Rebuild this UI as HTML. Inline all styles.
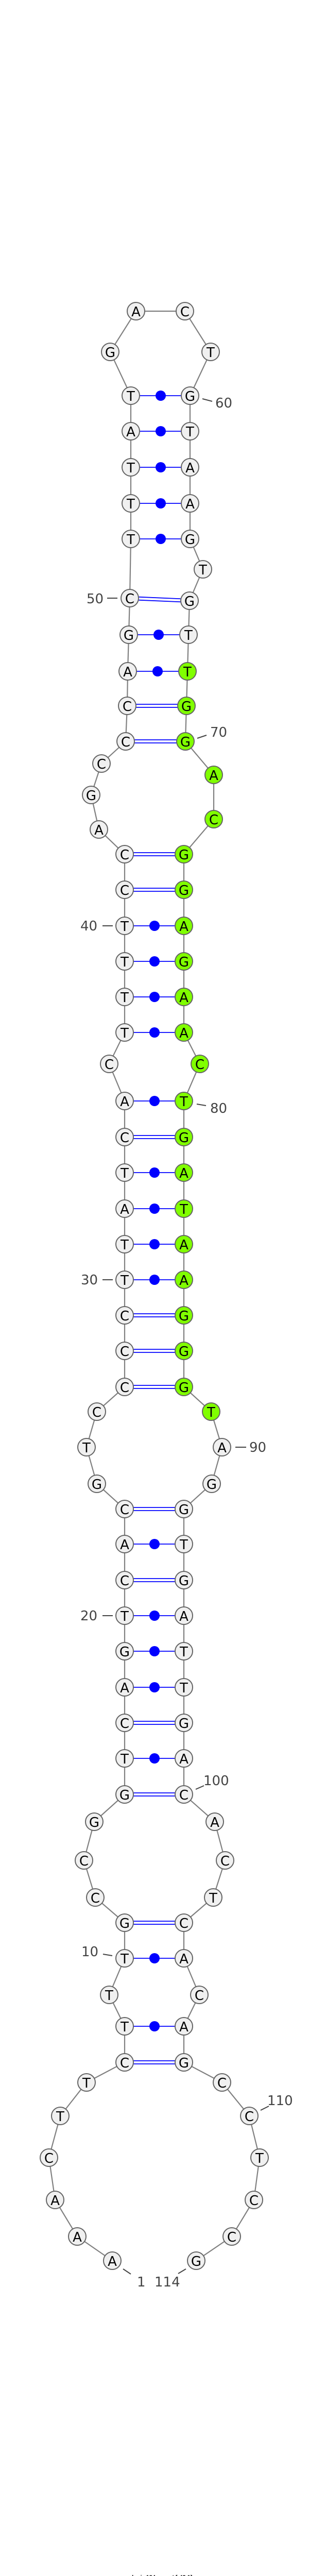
<!DOCTYPE html>
<html><head><meta charset="utf-8"><style>
html,body{margin:0;padding:0;background:#fff;width:600px;height:5012px;overflow:hidden}
svg{display:block}
.n{fill:#f0f0f0;stroke:#646464;stroke-width:2}
.g{fill:#80ff00;stroke:#646464;stroke-width:2}
.t{font-family:"DejaVu Sans","Liberation Sans",sans-serif;font-size:26px;text-anchor:middle;fill:#000}
.l{font-family:"DejaVu Sans","Liberation Sans",sans-serif;font-size:26px;fill:#444}
.p{stroke:#0000ff;stroke-width:1.8}
.d{fill:#0000ff}
.lt{stroke:#444;stroke-width:2}
</style></head><body>
<svg width="600" height="5012" viewBox="0 0 600 5012" xmlns="http://www.w3.org/2000/svg">
<polyline fill="none" stroke="#808080" stroke-width="2.2" points="218,4388 150,4341 107,4270 95,4188 117,4107 168,4042 242,4003 242,3933 212,3872 242,3801 242,3732 185,3683 163,3611 183,3536 242,3483 242,3413 242,3344 242,3275 242,3205 242,3136 242,3067 242,2997 242,2929 188,2880 168,2809 188,2740 242,2692 242,2622 242,2553 242,2484 242,2415 242,2346 242,2276 242,2207 242,2137 212,2065 242,2004 242,1935 242,1866 242,1797 242,1727 242,1658 192,1610 177,1543 197,1482 244,1439 247,1370 248,1303 250,1232 252,1161 254,1046 254,977 254,907 254,837 254,768 214,683 264,604 359,604 409,683 369,768 369,837 369,907 369,977 369,1046 394,1105 368,1166 366,1232 364,1303 362,1370 360,1439 415,1504 415,1590 357,1658 357,1727 357,1797 357,1866 357,1935 357,2004 388,2065 357,2137 357,2207 357,2276 357,2346 357,2415 357,2484 357,2553 357,2622 357,2692 410,2740 431,2809 411,2880 357,2929 357,2997 357,3067 357,3136 357,3205 357,3275 357,3344 357,3413 357,3483 417,3536 437,3611 414,3683 357,3732 357,3801 387,3872 357,3933 357,4003 431,4042 484,4107 504,4188 493,4270 450,4341 381,4388"/>
<g class="p">
<line x1="242" y1="4000" x2="357" y2="4000"/><line x1="242" y1="4006" x2="357" y2="4006"/>
<line x1="242" y1="3729" x2="357" y2="3729"/><line x1="242" y1="3735" x2="357" y2="3735"/>
<line x1="242" y1="3480" x2="357" y2="3480"/><line x1="242" y1="3486" x2="357" y2="3486"/>
<line x1="242" y1="3341" x2="357" y2="3341"/><line x1="242" y1="3347" x2="357" y2="3347"/>
<line x1="242" y1="3064" x2="357" y2="3064"/><line x1="242" y1="3070" x2="357" y2="3070"/>
<line x1="242" y1="2926" x2="357" y2="2926"/><line x1="242" y1="2932" x2="357" y2="2932"/>
<line x1="242" y1="2689" x2="357" y2="2689"/><line x1="242" y1="2695" x2="357" y2="2695"/>
<line x1="242" y1="2619" x2="357" y2="2619"/><line x1="242" y1="2625" x2="357" y2="2625"/>
<line x1="242" y1="2550" x2="357" y2="2550"/><line x1="242" y1="2556" x2="357" y2="2556"/>
<line x1="242" y1="2204" x2="357" y2="2204"/><line x1="242" y1="2210" x2="357" y2="2210"/>
<line x1="242" y1="1724" x2="357" y2="1724"/><line x1="242" y1="1730" x2="357" y2="1730"/>
<line x1="242" y1="1655" x2="357" y2="1655"/><line x1="242" y1="1661" x2="357" y2="1661"/>
<line x1="244" y1="1436" x2="360" y2="1436"/><line x1="244" y1="1442" x2="360" y2="1442"/>
<line x1="247" y1="1367" x2="362" y2="1367"/><line x1="247" y1="1373" x2="362" y2="1373"/>
<line x1="252" y1="1158" x2="368" y2="1163"/><line x1="252" y1="1164" x2="368" y2="1169"/>
<line x1="242" y1="3933" x2="357" y2="3933"/>
<line x1="242" y1="3801" x2="357" y2="3801"/>
<line x1="242" y1="3413" x2="357" y2="3413"/>
<line x1="242" y1="3275" x2="357" y2="3275"/>
<line x1="242" y1="3205" x2="357" y2="3205"/>
<line x1="242" y1="3136" x2="357" y2="3136"/>
<line x1="242" y1="2997" x2="357" y2="2997"/>
<line x1="242" y1="2484" x2="357" y2="2484"/>
<line x1="242" y1="2415" x2="357" y2="2415"/>
<line x1="242" y1="2346" x2="357" y2="2346"/>
<line x1="242" y1="2276" x2="357" y2="2276"/>
<line x1="242" y1="2137" x2="357" y2="2137"/>
<line x1="242" y1="2004" x2="357" y2="2004"/>
<line x1="242" y1="1935" x2="357" y2="1935"/>
<line x1="242" y1="1866" x2="357" y2="1866"/>
<line x1="242" y1="1797" x2="357" y2="1797"/>
<line x1="248" y1="1303" x2="364" y2="1303"/>
<line x1="250" y1="1232" x2="366" y2="1232"/>
<line x1="254" y1="1046" x2="369" y2="1046"/>
<line x1="254" y1="977" x2="369" y2="977"/>
<line x1="254" y1="907" x2="369" y2="907"/>
<line x1="254" y1="837" x2="369" y2="837"/>
<line x1="254" y1="768" x2="369" y2="768"/>
</g>
<g class="d">
<circle cx="300" cy="3933" r="10"/><circle cx="300" cy="3801" r="10"/><circle cx="300" cy="3413" r="10"/>
<circle cx="300" cy="3275" r="10"/><circle cx="300" cy="3205" r="10"/><circle cx="300" cy="3136" r="10"/>
<circle cx="300" cy="2997" r="10"/><circle cx="300" cy="2484" r="10"/><circle cx="300" cy="2415" r="10"/>
<circle cx="300" cy="2346" r="10"/><circle cx="300" cy="2276" r="10"/><circle cx="300" cy="2137" r="10"/>
<circle cx="300" cy="2004" r="10"/><circle cx="300" cy="1935" r="10"/><circle cx="300" cy="1866" r="10"/>
<circle cx="300" cy="1797" r="10"/><circle cx="306" cy="1303" r="10"/><circle cx="308" cy="1232" r="10"/>
<circle cx="312" cy="1046" r="10"/><circle cx="312" cy="977" r="10"/><circle cx="312" cy="907" r="10"/>
<circle cx="312" cy="837" r="10"/><circle cx="312" cy="768" r="10"/>
</g>
<g>
<circle class="n" cx="218" cy="4388" r="17"/><text class="t" x="218" y="4398">A</text>
<circle class="n" cx="150" cy="4341" r="17"/><text class="t" x="150" y="4351">A</text>
<circle class="n" cx="107" cy="4270" r="17"/><text class="t" x="107" y="4280">A</text>
<circle class="n" cx="95" cy="4188" r="17"/><text class="t" x="95" y="4198">C</text>
<circle class="n" cx="117" cy="4107" r="17"/><text class="t" x="117" y="4117">T</text>
<circle class="n" cx="168" cy="4042" r="17"/><text class="t" x="168" y="4052">T</text>
<circle class="n" cx="242" cy="4003" r="17"/><text class="t" x="242" y="4013">C</text>
<circle class="n" cx="242" cy="3933" r="17"/><text class="t" x="242" y="3943">T</text>
<circle class="n" cx="212" cy="3872" r="17"/><text class="t" x="212" y="3882">T</text>
<circle class="n" cx="242" cy="3801" r="17"/><text class="t" x="242" y="3811">T</text>
<circle class="n" cx="242" cy="3732" r="17"/><text class="t" x="242" y="3742">G</text>
<circle class="n" cx="185" cy="3683" r="17"/><text class="t" x="185" y="3693">C</text>
<circle class="n" cx="163" cy="3611" r="17"/><text class="t" x="163" y="3621">C</text>
<circle class="n" cx="183" cy="3536" r="17"/><text class="t" x="183" y="3546">G</text>
<circle class="n" cx="242" cy="3483" r="17"/><text class="t" x="242" y="3493">G</text>
<circle class="n" cx="242" cy="3413" r="17"/><text class="t" x="242" y="3423">T</text>
<circle class="n" cx="242" cy="3344" r="17"/><text class="t" x="242" y="3354">C</text>
<circle class="n" cx="242" cy="3275" r="17"/><text class="t" x="242" y="3285">A</text>
<circle class="n" cx="242" cy="3205" r="17"/><text class="t" x="242" y="3215">G</text>
<circle class="n" cx="242" cy="3136" r="17"/><text class="t" x="242" y="3146">T</text>
<circle class="n" cx="242" cy="3067" r="17"/><text class="t" x="242" y="3077">C</text>
<circle class="n" cx="242" cy="2997" r="17"/><text class="t" x="242" y="3007">A</text>
<circle class="n" cx="242" cy="2929" r="17"/><text class="t" x="242" y="2939">C</text>
<circle class="n" cx="188" cy="2880" r="17"/><text class="t" x="188" y="2890">G</text>
<circle class="n" cx="168" cy="2809" r="17"/><text class="t" x="168" y="2819">T</text>
<circle class="n" cx="188" cy="2740" r="17"/><text class="t" x="188" y="2750">C</text>
<circle class="n" cx="242" cy="2692" r="17"/><text class="t" x="242" y="2702">C</text>
<circle class="n" cx="242" cy="2622" r="17"/><text class="t" x="242" y="2632">C</text>
<circle class="n" cx="242" cy="2553" r="17"/><text class="t" x="242" y="2563">C</text>
<circle class="n" cx="242" cy="2484" r="17"/><text class="t" x="242" y="2494">T</text>
<circle class="n" cx="242" cy="2415" r="17"/><text class="t" x="242" y="2425">T</text>
<circle class="n" cx="242" cy="2346" r="17"/><text class="t" x="242" y="2356">A</text>
<circle class="n" cx="242" cy="2276" r="17"/><text class="t" x="242" y="2286">T</text>
<circle class="n" cx="242" cy="2207" r="17"/><text class="t" x="242" y="2217">C</text>
<circle class="n" cx="242" cy="2137" r="17"/><text class="t" x="242" y="2147">A</text>
<circle class="n" cx="212" cy="2065" r="17"/><text class="t" x="212" y="2075">C</text>
<circle class="n" cx="242" cy="2004" r="17"/><text class="t" x="242" y="2014">T</text>
<circle class="n" cx="242" cy="1935" r="17"/><text class="t" x="242" y="1945">T</text>
<circle class="n" cx="242" cy="1866" r="17"/><text class="t" x="242" y="1876">T</text>
<circle class="n" cx="242" cy="1797" r="17"/><text class="t" x="242" y="1807">T</text>
<circle class="n" cx="242" cy="1727" r="17"/><text class="t" x="242" y="1737">C</text>
<circle class="n" cx="242" cy="1658" r="17"/><text class="t" x="242" y="1668">C</text>
<circle class="n" cx="192" cy="1610" r="17"/><text class="t" x="192" y="1620">A</text>
<circle class="n" cx="177" cy="1543" r="17"/><text class="t" x="177" y="1553">G</text>
<circle class="n" cx="197" cy="1482" r="17"/><text class="t" x="197" y="1492">C</text>
<circle class="n" cx="244" cy="1439" r="17"/><text class="t" x="244" y="1449">C</text>
<circle class="n" cx="247" cy="1370" r="17"/><text class="t" x="247" y="1380">C</text>
<circle class="n" cx="248" cy="1303" r="17"/><text class="t" x="248" y="1313">A</text>
<circle class="n" cx="250" cy="1232" r="17"/><text class="t" x="250" y="1242">G</text>
<circle class="n" cx="252" cy="1161" r="17"/><text class="t" x="252" y="1171">C</text>
<circle class="n" cx="254" cy="1046" r="17"/><text class="t" x="254" y="1056">T</text>
<circle class="n" cx="254" cy="977" r="17"/><text class="t" x="254" y="987">T</text>
<circle class="n" cx="254" cy="907" r="17"/><text class="t" x="254" y="917">T</text>
<circle class="n" cx="254" cy="837" r="17"/><text class="t" x="254" y="847">A</text>
<circle class="n" cx="254" cy="768" r="17"/><text class="t" x="254" y="778">T</text>
<circle class="n" cx="214" cy="683" r="17"/><text class="t" x="214" y="693">G</text>
<circle class="n" cx="264" cy="604" r="17"/><text class="t" x="264" y="614">A</text>
<circle class="n" cx="359" cy="604" r="17"/><text class="t" x="359" y="614">C</text>
<circle class="n" cx="409" cy="683" r="17"/><text class="t" x="409" y="693">T</text>
<circle class="n" cx="369" cy="768" r="17"/><text class="t" x="369" y="778">G</text>
<circle class="n" cx="369" cy="837" r="17"/><text class="t" x="369" y="847">T</text>
<circle class="n" cx="369" cy="907" r="17"/><text class="t" x="369" y="917">A</text>
<circle class="n" cx="369" cy="977" r="17"/><text class="t" x="369" y="987">A</text>
<circle class="n" cx="369" cy="1046" r="17"/><text class="t" x="369" y="1056">G</text>
<circle class="n" cx="394" cy="1105" r="17"/><text class="t" x="394" y="1115">T</text>
<circle class="n" cx="368" cy="1166" r="17"/><text class="t" x="368" y="1176">G</text>
<circle class="n" cx="366" cy="1232" r="17"/><text class="t" x="366" y="1242">T</text>
<circle class="g" cx="364" cy="1303" r="17"/><text class="t" x="364" y="1313">T</text>
<circle class="g" cx="362" cy="1370" r="17"/><text class="t" x="362" y="1380">G</text>
<circle class="g" cx="360" cy="1439" r="17"/><text class="t" x="360" y="1449">G</text>
<circle class="g" cx="415" cy="1504" r="17"/><text class="t" x="415" y="1514">A</text>
<circle class="g" cx="415" cy="1590" r="17"/><text class="t" x="415" y="1600">C</text>
<circle class="g" cx="357" cy="1658" r="17"/><text class="t" x="357" y="1668">G</text>
<circle class="g" cx="357" cy="1727" r="17"/><text class="t" x="357" y="1737">G</text>
<circle class="g" cx="357" cy="1797" r="17"/><text class="t" x="357" y="1807">A</text>
<circle class="g" cx="357" cy="1866" r="17"/><text class="t" x="357" y="1876">G</text>
<circle class="g" cx="357" cy="1935" r="17"/><text class="t" x="357" y="1945">A</text>
<circle class="g" cx="357" cy="2004" r="17"/><text class="t" x="357" y="2014">A</text>
<circle class="g" cx="388" cy="2065" r="17"/><text class="t" x="388" y="2075">C</text>
<circle class="g" cx="357" cy="2137" r="17"/><text class="t" x="357" y="2147">T</text>
<circle class="g" cx="357" cy="2207" r="17"/><text class="t" x="357" y="2217">G</text>
<circle class="g" cx="357" cy="2276" r="17"/><text class="t" x="357" y="2286">A</text>
<circle class="g" cx="357" cy="2346" r="17"/><text class="t" x="357" y="2356">T</text>
<circle class="g" cx="357" cy="2415" r="17"/><text class="t" x="357" y="2425">A</text>
<circle class="g" cx="357" cy="2484" r="17"/><text class="t" x="357" y="2494">A</text>
<circle class="g" cx="357" cy="2553" r="17"/><text class="t" x="357" y="2563">G</text>
<circle class="g" cx="357" cy="2622" r="17"/><text class="t" x="357" y="2632">G</text>
<circle class="g" cx="357" cy="2692" r="17"/><text class="t" x="357" y="2702">G</text>
<circle class="g" cx="410" cy="2740" r="17"/><text class="t" x="410" y="2750">T</text>
<circle class="n" cx="431" cy="2809" r="17"/><text class="t" x="431" y="2819">A</text>
<circle class="n" cx="411" cy="2880" r="17"/><text class="t" x="411" y="2890">G</text>
<circle class="n" cx="357" cy="2929" r="17"/><text class="t" x="357" y="2939">G</text>
<circle class="n" cx="357" cy="2997" r="17"/><text class="t" x="357" y="3007">T</text>
<circle class="n" cx="357" cy="3067" r="17"/><text class="t" x="357" y="3077">G</text>
<circle class="n" cx="357" cy="3136" r="17"/><text class="t" x="357" y="3146">A</text>
<circle class="n" cx="357" cy="3205" r="17"/><text class="t" x="357" y="3215">T</text>
<circle class="n" cx="357" cy="3275" r="17"/><text class="t" x="357" y="3285">T</text>
<circle class="n" cx="357" cy="3344" r="17"/><text class="t" x="357" y="3354">G</text>
<circle class="n" cx="357" cy="3413" r="17"/><text class="t" x="357" y="3423">A</text>
<circle class="n" cx="357" cy="3483" r="17"/><text class="t" x="357" y="3493">C</text>
<circle class="n" cx="417" cy="3536" r="17"/><text class="t" x="417" y="3546">A</text>
<circle class="n" cx="437" cy="3611" r="17"/><text class="t" x="437" y="3621">C</text>
<circle class="n" cx="414" cy="3683" r="17"/><text class="t" x="414" y="3693">T</text>
<circle class="n" cx="357" cy="3732" r="17"/><text class="t" x="357" y="3742">C</text>
<circle class="n" cx="357" cy="3801" r="17"/><text class="t" x="357" y="3811">A</text>
<circle class="n" cx="387" cy="3872" r="17"/><text class="t" x="387" y="3882">C</text>
<circle class="n" cx="357" cy="3933" r="17"/><text class="t" x="357" y="3943">A</text>
<circle class="n" cx="357" cy="4003" r="17"/><text class="t" x="357" y="4013">G</text>
<circle class="n" cx="431" cy="4042" r="17"/><text class="t" x="431" y="4052">C</text>
<circle class="n" cx="484" cy="4107" r="17"/><text class="t" x="484" y="4117">C</text>
<circle class="n" cx="504" cy="4188" r="17"/><text class="t" x="504" y="4198">T</text>
<circle class="n" cx="493" cy="4270" r="17"/><text class="t" x="493" y="4280">C</text>
<circle class="n" cx="450" cy="4341" r="17"/><text class="t" x="450" y="4351">C</text>
<circle class="n" cx="381" cy="4388" r="17"/><text class="t" x="381" y="4398">G</text>
</g>
<g class="lt">
<line x1="393" y1="774" x2="412" y2="779"/>
<line x1="208" y1="1161" x2="228" y2="1161"/>
<line x1="383" y1="1433" x2="401" y2="1427"/>
<line x1="199" y1="1797" x2="219" y2="1797"/>
<line x1="382" y1="2143" x2="400" y2="2146"/>
<line x1="199" y1="2484" x2="219" y2="2484"/>
<line x1="457" y1="2809" x2="478" y2="2809"/>
<line x1="199" y1="3136" x2="219" y2="3136"/>
<line x1="380" y1="3473" x2="396" y2="3466"/>
<line x1="200" y1="3793" x2="218" y2="3796"/>
<line x1="506" y1="4096" x2="522" y2="4088"/>
<line x1="239" y1="4404" x2="254" y2="4414"/>
<line x1="346" y1="4413" x2="361" y2="4404"/>
</g>
<text class="l" x="418" y="791">60</text>
<text class="l" x="168" y="1171">50</text>
<text class="l" x="408" y="1430">70</text>
<text class="l" x="156" y="1806">40</text>
<text class="l" x="408" y="2160">80</text>
<text class="l" x="157" y="2493">30</text>
<text class="l" x="484" y="2818">90</text>
<text class="l" x="156" y="3145">20</text>
<text class="l" x="395" y="3465">100</text>
<text class="l" x="158" y="3797">10</text>
<text class="l" x="519" y="4086">110</text>
<text class="l" x="266" y="4438">1</text>
<text class="l" x="300" y="4438">114</text>
<text x="305" y="5006" text-anchor="middle" style="font-family:'Liberation Sans',sans-serif;font-weight:bold;font-size:11px;fill:#000">mml-mir-184_annot [-43.1]</text>
</svg>
</body></html>
